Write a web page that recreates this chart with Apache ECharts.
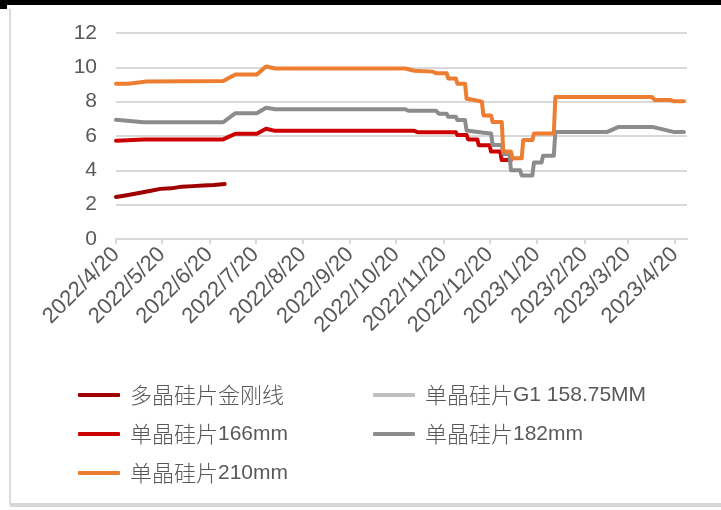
<!DOCTYPE html>
<html>
<head>
<meta charset="utf-8">
<script src="https://cdn.jsdelivr.net/npm/echarts@6/dist/echarts.min.js"></script>
<style>
  html, body { margin: 0; padding: 0; background: #fff; }
  #siliconChart { width: 721px; height: 510px; }
</style>
</head>
<body>
<div id="siliconChart"></div>
<script>
// 横轴刻度（每月20日）
const tickDates = ['2022-04-20','2022-05-20','2022-06-20','2022-07-20','2022-08-20','2022-09-20',
  '2022-10-20','2022-11-20','2022-12-20','2023-01-20','2023-02-20','2023-03-20','2023-04-20']
const yTicks = [0, 2, 4, 6, 8, 10, 12]

// 多晶硅片金刚线
const polyDates = ['2022-04-20','2022-04-27','2022-05-05','2022-05-12','2022-05-19','2022-05-26',
  '2022-06-02','2022-06-09','2022-06-16','2022-06-23','2022-06-30']
const polyValues = [2.45, 2.55, 2.68, 2.8, 2.92, 2.95, 3.05, 3.08, 3.12, 3.15, 3.2]

// 单晶硅片G1 158.75MM（图中无可见数据）
const g1Dates = []
const g1Values = []

// 单晶硅片166mm
const m166Dates = ['2022-04-20','2022-05-08','2022-06-29','2022-07-07','2022-07-21','2022-07-27',
  '2022-08-02','2022-11-01','2022-11-03','2022-11-28','2022-11-29','2022-12-05','2022-12-06',
  '2022-12-12','2022-12-13','2022-12-20','2022-12-21','2022-12-27','2022-12-28','2023-01-03']
const m166Values = [5.73, 5.79, 5.8, 6.13, 6.13, 6.42, 6.3, 6.3, 6.22, 6.22, 6.06, 6.06, 5.8,
  5.8, 5.46, 5.46, 5.1, 5.1, 4.6, 4.6]

// 单晶硅片182mm
const m182Dates = ['2022-04-20','2022-05-08','2022-06-29','2022-07-07','2022-07-21','2022-07-27',
  '2022-08-02','2022-10-26','2022-10-28','2022-11-15','2022-11-17','2022-11-22','2022-11-23',
  '2022-11-28','2022-11-29','2022-12-04','2022-12-05','2022-12-15','2022-12-21','2022-12-22',
  '2022-12-28','2022-12-29','2023-01-02','2023-01-03','2023-01-09','2023-01-10','2023-01-17',
  '2023-01-18','2023-01-23','2023-01-24','2023-01-31','2023-02-01','2023-03-07','2023-03-14',
  '2023-04-06','2023-04-15','2023-04-19','2023-04-26']
const m182Values = [6.94, 6.8, 6.8, 7.33, 7.33, 7.65, 7.56, 7.56, 7.47, 7.47, 7.3, 7.3, 7.12,
  7.12, 6.93, 6.93, 6.32, 6.2, 6.15, 5.48, 5.48, 4.95, 4.95, 4.0, 4.0, 3.7, 3.7, 4.45, 4.45,
  4.85, 4.85, 6.24, 6.24, 6.52, 6.52, 6.33, 6.24, 6.24]

// 单晶硅片210mm
const m210Dates = ['2022-04-20','2022-04-28','2022-05-10','2022-06-29','2022-07-07','2022-07-21',
  '2022-07-27','2022-08-02','2022-10-26','2022-11-01','2022-11-13','2022-11-15','2022-11-22',
  '2022-11-23','2022-11-28','2022-11-29','2022-12-04','2022-12-05','2022-12-10','2022-12-11',
  '2022-12-15','2022-12-16','2022-12-21','2022-12-22','2022-12-28','2022-12-29','2023-01-03',
  '2023-01-04','2023-01-10','2023-01-11','2023-01-17','2023-01-18','2023-01-31','2023-02-01',
  '2023-04-05','2023-04-07','2023-04-17','2023-04-19','2023-04-26']
const m210Values = [9.05, 9.05, 9.18, 9.2, 9.58, 9.58, 10.05, 9.93, 9.93, 9.8, 9.75, 9.65, 9.65,
  9.35, 9.35, 9.05, 9.05, 8.17, 8.1, 8.0, 8.0, 7.2, 7.2, 6.82, 6.82, 5.09, 5.09, 4.7, 4.7,
  5.76, 5.76, 6.15, 6.15, 8.27, 8.27, 8.1, 8.1, 8.03, 8.03]

const seriesNames = ['多晶硅片金刚线', '单晶硅片G1 158.75MM', '单晶硅片166mm', '单晶硅片182mm', '单晶硅片210mm']
const colorArr = ['#a00000', '#bfbfbf', '#cc0000', '#8c8c8c', '#ed7d31']

const numFont = '"Liberation Sans", Arial, sans-serif'
const cnFont = '"Noto Sans CJK SC", sans-serif'

// 日期转成时间戳，横轴用数值轴
function ts(d) {
  const p = d.split('-')
  return Date.UTC(+p[0], +p[1] - 1, +p[2])
}

function pairUp(dates, values) {
  return dates.map((d, i) => [ts(d), values[i]])
}

function fmtDate(v) {
  const d = new Date(v)
  return d.getUTCFullYear() + '/' + (d.getUTCMonth() + 1) + '/' + d.getUTCDate()
}

// 图例文字：中文与数字分开设置字体
function legendText(name) {
  const m = name.match(/^([\u4e00-\u9fa5]+)(.*)$/)
  if (!m) return name
  return m[2] ? '{cn|' + m[1] + '}{num|' + m[2] + '}' : '{cn|' + m[1] + '}'
}

const legendRich = {
  cn: { fontFamily: cnFont, fontSize: 22, fontWeight: 300, color: '#595959', lineHeight: 24, padding: [0, 0, 0, 5] },
  num: { fontFamily: numFont, fontSize: 21, color: '#595959', lineHeight: 24 }
}

const allData = [
  pairUp(polyDates, polyValues),
  pairUp(g1Dates, g1Values),
  pairUp(m166Dates, m166Values),
  pairUp(m182Dates, m182Values),
  pairUp(m210Dates, m210Values)
].map((data, i) => ({
  name: seriesNames[i],
  type: 'line',
  data: data,
  showSymbol: false,
  symbol: 'none',
  color: colorArr[i],
  lineStyle: { width: 4, color: colorArr[i], cap: 'round', join: 'round' },
  emphasis: { disabled: true }
}))

const legendBase = {
  orient: 'vertical',
  top: 384,
  padding: 0,
  icon: 'roundRect',
  itemWidth: 42,
  itemHeight: 4,
  itemGap: 17,
  selectedMode: false,
  formatter: legendText,
  textStyle: { rich: legendRich }
}

const tickValues = tickDates.map(ts)

let myChart = echarts.init(document.getElementById('siliconChart'))
myChart.setOption({
  animation: false,
  backgroundColor: '#fff',
  grid: { left: 116, right: 34, top: 33, bottom: 271, containLabel: false },
  legend: [
    Object.assign({}, legendBase, { left: 78, data: [seriesNames[0], seriesNames[2], seriesNames[4]] }),
    Object.assign({}, legendBase, { left: 373, data: [seriesNames[1], seriesNames[3]] })
  ],
  xAxis: {
    type: 'value',
    min: ts('2022-04-20'),
    max: ts('2023-04-28'),
    splitLine: { show: false },
    axisLine: { show: true, lineStyle: { color: '#d9d9d9', width: 2 } },
    axisTick: { show: true, length: 5, customValues: tickValues, lineStyle: { color: '#d9d9d9', width: 2 } },
    axisLabel: {
      customValues: tickValues,
      formatter: fmtDate,
      rotate: 45,
      margin: 12,
      color: '#595959',
      fontFamily: numFont,
      fontSize: 22
    }
  },
  yAxis: {
    type: 'value',
    min: yTicks[0],
    max: yTicks[yTicks.length - 1],
    interval: 2,
    axisLine: { show: false },
    axisTick: { show: false },
    splitLine: { lineStyle: { color: '#d9d9d9', width: 2 } },
    axisLabel: { margin: 19, color: '#595959', fontFamily: numFont, fontSize: 21 }
  },
  graphic: [
    { type: 'rect', shape: { x: 0, y: 0, width: 721, height: 5 }, style: { fill: '#000' } },
    { type: 'rect', shape: { x: 0, y: 0, width: 7, height: 9 }, style: { fill: '#000' } },
    { type: 'line', shape: { x1: 10, y1: 9, x2: 10, y2: 505 }, style: { stroke: '#d0d0d0', lineWidth: 1.5 } },
    { type: 'rect', shape: { x: 10, y: 503, width: 711, height: 4 }, style: { fill: '#d6d6d6' } }
  ],
  series: allData
})
</script>
</body>
</html>
